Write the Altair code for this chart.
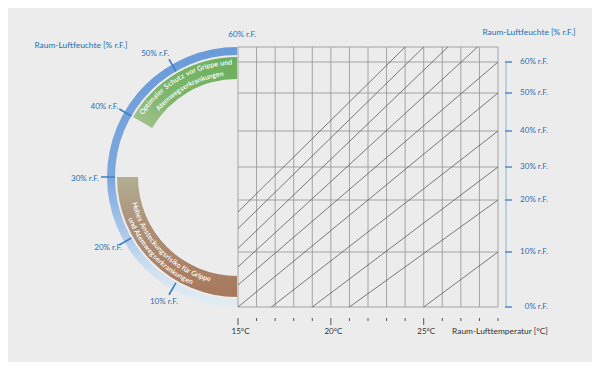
import math
import altair as alt
import pandas as pd

W, H = 260, 260

# ---------------- data ----------------
temps = list(range(15, 30))                      # °C grid lines
temp_labels = [15, 20, 25]
rh_ticks = [0, 10, 20, 30, 40, 50, 60]           # % r.F.
rh_top = 65
y_domain = [0, 10, 20, 30, 40, 50, 60, 65]
y_range = [260, 205, 153, 120, 84, 46, 15, 0]    # non-uniform humidity axis

# diagonal lines: start (temp, rh) -> end (temp, rh)
diag_t0 = [15, 15, 15, 15, 15, 15, 16.8, 19, 21, 25]
diag_r0 = [17.7, 14.5, 10.7, 7.3, 4.0, 0, 0, 0, 0, 0]
diag_t1 = [24, 25, 26.3, 27.9, 29, 29, 29, 29, 29, 29]
diag_r1 = [65, 65, 65, 65, 60, 50, 40, 30, 20, 10]

gauge_labels = [10, 20, 30, 40, 50, 60]
gauge_label_pos = [10.1, 20.4, 29.75, 39.3, 48.8, 60.7]   # label anchor (angle, in % r.F.)
gauge_label_rad = [145, 147, 152, 150, 148, 142.5]
band_green = (40, 60)
band_brown = (0, 30)

green_lines = ["Optimaler Schutz vor Grippe und", "Atemwegserkrankungen"]
green_span = [(41.2, 59.2), (43.4, 57.5)]
brown_lines = ["Hohes Ansteckungsrisiko für Grippe", "und Atemwegserkrankungen"]
brown_span = [(25.3, 4.8), (23.0, 7.6)]

BLUE = "#1f6db5"
GRID = "#9c9c9c"
FONT = "Lato"

xs = alt.Scale(domain=[15, 29], range=[0, W], nice=False, zero=False)
ys = alt.Scale(domain=y_domain, range=y_range, nice=False, zero=False)
ths = alt.Scale(domain=[0, 60], range=[math.pi, 2 * math.pi], nice=False, zero=False)

CX, CY = -1, 130

# ---------------- grid ----------------
vgrid = alt.Chart(pd.DataFrame({"t": temps, "lo": 0, "hi": rh_top})).mark_rule(
    color=GRID, strokeWidth=0.9).encode(
    x=alt.X("t:Q", scale=xs, axis=None),
    y=alt.Y("lo:Q", scale=ys, axis=None), y2="hi:Q")

hgrid = alt.Chart(pd.DataFrame({"r": rh_ticks + [rh_top], "a": 15, "b": 29})).mark_rule(
    color=GRID, strokeWidth=0.9).encode(
    y=alt.Y("r:Q", scale=ys, axis=None),
    x=alt.X("a:Q", scale=xs, axis=None), x2="b:Q")

diag = alt.Chart(pd.DataFrame({"t0": diag_t0, "r0": diag_r0, "t1": diag_t1, "r1": diag_r1})).mark_rule(
    color="#5a5a5a", strokeWidth=0.8).encode(
    x=alt.X("t0:Q", scale=xs, axis=None), y=alt.Y("r0:Q", scale=ys, axis=None),
    x2="t1:Q", y2="r1:Q")

# ---------------- right humidity axis ----------------
raxis = alt.Chart(pd.DataFrame({"a": [0], "b": [60]})).mark_rule(
    color="#a9c6e4", strokeWidth=1.5).encode(
    x=alt.value(268), y=alt.Y("a:Q", scale=ys, axis=None), y2="b:Q")

rdf = pd.DataFrame({"r": rh_ticks, "lab": [f"{v}% r.F." for v in rh_ticks]})
rticks = alt.Chart(rdf).mark_rule(color="#4f8bcb", strokeWidth=1.5).encode(
    x=alt.value(267), x2=alt.value(274), y=alt.Y("r:Q", scale=ys, axis=None))
rlabels = alt.Chart(rdf).mark_text(align="right", baseline="middle", font=FONT,
                                   fontSize=8, color=BLUE).encode(
    x=alt.value(310), y=alt.Y("r:Q", scale=ys, axis=None), text="lab:N")

# ---------------- bottom temperature axis ----------------
tdf = pd.DataFrame({"t": temps, "major": [t in temp_labels for t in temps]})
bt_minor = alt.Chart(tdf).transform_filter("!datum.major").mark_rule(
    color="#555", strokeWidth=1).encode(
    x=alt.X("t:Q", scale=xs, axis=None), y=alt.value(271), y2=alt.value(274))
bt_major = alt.Chart(tdf).transform_filter("datum.major").mark_rule(
    color="#555", strokeWidth=1).encode(
    x=alt.X("t:Q", scale=xs, axis=None), y=alt.value(271), y2=alt.value(278))
blabels = alt.Chart(pd.DataFrame({"t": temp_labels, "lab": [f"{t}°C" for t in temp_labels]})).mark_text(
    align="center", baseline="middle", font=FONT, fontSize=8, color="#333", dx=2.5).encode(
    x=alt.X("t:Q", scale=xs, axis=None), y=alt.value(285), text="lab:N")

titles = alt.Chart(pd.DataFrame({
    "lab": ["Raum-Luftfeuchte [% r.F.]", "Raum-Luftfeuchte [% r.F.]", "Raum-Lufttemperatur [°C]"],
    "px": [291, -157, 262], "py": [-15, -2, 284], "col": [BLUE, BLUE, "#333333"]})).mark_text(
    align="center", baseline="middle", font=FONT, fontSize=8.4).encode(
    x=alt.X("px:Q", scale=None), y=alt.Y("py:Q", scale=None), text="lab:N",
    color=alt.Color("col:N", scale=None))

# ---------------- gauge ----------------
ring = alt.Chart(pd.DataFrame({"a": [0], "b": [60]})).mark_arc(
    radius=130, radius2=122,
    fill={"gradient": "linear", "x1": 0, "y1": 0, "x2": 0, "y2": 1,
          "stops": [{"offset": 0, "color": "#6a9bd9"},
                    {"offset": 0.5, "color": "#7ca8de"},
                    {"offset": 0.7, "color": "#a8c5e8"},
                    {"offset": 0.86, "color": "#d0e1f0"},
                    {"offset": 1, "color": "#e4eef2"}]}).encode(
    theta=alt.Theta("a:Q", scale=ths), theta2="b:Q",
    x=alt.value(CX), y=alt.value(CY))

green = alt.Chart(pd.DataFrame({"a": [band_green[0]], "b": [band_green[1]]})).mark_arc(
    radius=120, radius2=98,
    fill={"gradient": "linear", "x1": 0, "y1": 1, "x2": 1, "y2": 0,
          "stops": [{"offset": 0, "color": "#a9c394"},
                    {"offset": 0.35, "color": "#80b66d"},
                    {"offset": 1, "color": "#6caf5d"}]}).encode(
    theta=alt.Theta("a:Q", scale=ths), theta2="b:Q",
    x=alt.value(CX), y=alt.value(CY))

brown = alt.Chart(pd.DataFrame({"a": [band_brown[0]], "b": [band_brown[1]]})).mark_arc(
    radius=120, radius2=99,
    fill={"gradient": "linear", "x1": 0, "y1": 0, "x2": 0, "y2": 1,
          "stops": [{"offset": 0, "color": "#b3ae90"},
                    {"offset": 0.4, "color": "#ad9078"},
                    {"offset": 1, "color": "#a7785c"}]}).encode(
    theta=alt.Theta("a:Q", scale=ths), theta2="b:Q",
    x=alt.value(CX), y=alt.value(CY))

gticks = alt.Chart(pd.DataFrame({"r": gauge_labels[:-1]})).transform_calculate(
    a="datum.r - 0.12", b="datum.r + 0.12").mark_arc(
    radius=136, radius2=122, color="#3d7fc6").encode(
    theta=alt.Theta("a:Q", scale=ths), theta2="b:Q",
    x=alt.value(CX), y=alt.value(CY))

glab_df = pd.DataFrame({"pos": gauge_label_pos, "rad": gauge_label_rad,
                        "lab": [f"{v}% r.F." for v in gauge_labels]})
glabels = alt.Chart(glab_df).mark_text(align="center", baseline="middle", font=FONT,
                                       fontSize=8, color=BLUE).encode(
    theta=alt.Theta("pos:Q", scale=ths, stack=None), radius=alt.Radius("rad:Q", scale=None),
    x=alt.value(CX), y=alt.value(CY), text="lab:N")


def cw(c):
    if c == " ":
        return 0.26
    if c in "il.,'|!j":
        return 0.25
    if c in "tfr":
        return 0.35
    if c in "mw":
        return 0.8
    if c in "MW":
        return 0.85
    if c.isupper():
        return 0.63
    return 0.52


def arc_text(lines, spans, radii, clockwise):
    rows = []
    for line, (s, e), rad in zip(lines, spans, radii):
        widths = [cw(c) for c in line]
        tot = sum(widths)
        acc = 0
        for c, w in zip(line, widths):
            pos = s + (e - s) * (acc + w / 2) / tot
            acc += w
            rot = 180 + 3 * pos if clockwise else 3 * pos
            rows.append({"ch": c, "pos": pos, "rad": rad, "rot": rot})
    return pd.DataFrame(rows)


gtxt = alt.Chart(arc_text(green_lines, green_span, [114.5, 104], True)).mark_text(
    align="center", baseline="middle", font=FONT, fontSize=7, fontWeight=600, color="white").encode(
    theta=alt.Theta("pos:Q", scale=ths, stack=None), radius=alt.Radius("rad:Q", scale=None),
    angle=alt.Angle("rot:Q", scale=None), x=alt.value(CX), y=alt.value(CY), text="ch:N")
btxt = alt.Chart(arc_text(brown_lines, brown_span, [106, 114.5], False)).mark_text(
    align="center", baseline="middle", font=FONT, fontSize=7, fontWeight=600, color="white").encode(
    theta=alt.Theta("pos:Q", scale=ths, stack=None), radius=alt.Radius("rad:Q", scale=None),
    angle=alt.Angle("rot:Q", scale=None), x=alt.value(CX), y=alt.value(CY), text="ch:N")

chart = alt.layer(
    vgrid, hgrid, diag, raxis, rticks, rlabels, bt_minor, bt_major, blabels, titles,
    ring, green, brown, gticks, glabels, gtxt, btxt
).properties(
    width=W, height=H,
    autosize=alt.AutoSizeParams(type="none"),
    padding={"left": 230, "top": 39, "right": 94, "bottom": 55},
    background="#ececec",
).configure_view(stroke=None)

chart.save("out.html", embed_options={"renderer": "svg", "actions": False})
